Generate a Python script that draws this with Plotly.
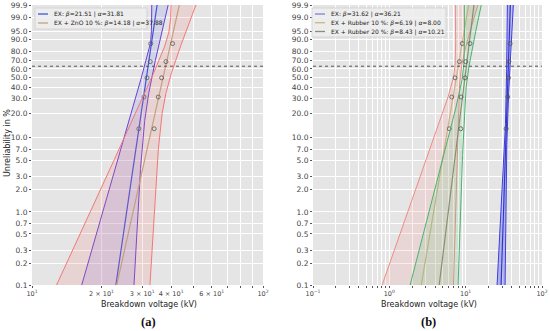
import numpy as np
import plotly.graph_objects as go

# ---------------- data ----------------
ranks_F = [0.1296, 0.3148, 0.5, 0.6852, 0.8704]  # Benard median ranks, n=5

# panel (a)
a_names = ["EX", "EX + ZnO 10 %"]
a_beta = [21.51, 14.18]
a_alpha = [31.81, 37.88]
a_points = [[29.0, 30.55, 31.47, 32.5, 32.66],
            [33.8, 35.2, 36.4, 38.0, 40.6]]
# confidence-band half widths (ln units): (w0, wk, rho) for lower / upper side
a_lo_band = [(0.035, 0.0444, -0.96), (0.09, 0.0753, -0.87)]
a_hi_band = [(0.06, 0.0312, 0.675), (0.08, 0.0541, 0.61)]

# panel (b)
b_names = ["EX", "EX + Rubber 10 %", "EX + Rubber 20 %"]
b_beta = [31.62, 6.19, 8.43]
b_alpha = [36.21, 8.00, 10.21]
b_points = [[33.9, 35.6, 36.4, 36.9, 38.2],
            [6.11, 6.57, 7.26, 8.27, 9.06],
            [8.63, 8.70, 9.82, 10.0, 11.4]]
b_lo_band = [(0.05, 0.0229, 0.82), (0.10, 0.1774, 0.476), (0.08, 0.1305, 0.35)]
b_hi_band = [(0.05, 0.0229, 0.82), (0.10, 0.1389, -0.066), (0.08, 0.0877, 0.49)]

y_ticks_pct = [99.9, 99.0, 95.0, 90.0, 80.0, 70.0, 60.0, 50.0, 40.0, 30.0, 20.0,
               10.0, 7.0, 5.0, 3.0, 2.0, 1.0, 0.7, 0.5, 0.3, 0.2, 0.1]
a_xticks = [10, 20, 30, 40, 50, 60, 70, 80, 90, 100]
a_xtext = ["10<sup>1</sup>", "2 × 10<sup>1</sup>", "3 × 10<sup>1</sup>", "4 × 10<sup>1</sup>", "",
           "6 × 10<sup>1</sup>", "", "", "", "10<sup>2</sup>"]
b_xticks = [m * 10.0 ** e for e in (-1, 0, 1) for m in range(1, 10)] + [100]
b_xtext = [("10<sup>%s</sup>" % ("−1" if e == -1 else str(e))) if m == 1 else ""
           for e in (-1, 0, 1) for m in range(1, 10)] + ["10<sup>2</sup>"]

# styles
a_fit_col = ["#4353d6", "#c4a07e"]
a_bnd_col = ["#6a40d0", "#f07878"]
a_fill_col = ["rgba(110,120,235,0.17)", "rgba(250,120,120,0.16)"]
b_fit_col = ["#3535c8", "#c8b484", "#86906e"]
b_bnd_col = ["#3d3de0", "#ec8c84", "#4fb070"]
b_fill_col = ["rgba(50,60,235,0.30)", "rgba(250,130,130,0.16)", "rgba(80,200,120,0.16)"]

W, H = 550, 331


def px(x):
    return x / W


def py(y):
    return 1 - y / H


def yw(F):
    return np.log(-np.log(1.0 - np.asarray(F, dtype=float)))


YMIN = float(yw(0.001))
YMAX = float(yw(0.999))
ys = np.linspace(YMIN, YMAX, 200)

fig = go.Figure()


def half_width(p):
    w0, wk, rho = p
    return np.sqrt(np.maximum(w0 ** 2 + (wk * ys) ** 2 + 2 * rho * w0 * wk * ys, 1e-6))


def add_series(beta, alpha, pts, lo_p, hi_p, fitc, bndc, fillc, xa, ya):
    u = np.log(alpha) + ys / beta
    lo = np.exp(u - half_width(lo_p))
    hi = np.exp(u + half_width(hi_p))
    fig.add_trace(go.Scatter(x=np.concatenate([lo, hi[::-1]]), y=np.concatenate([ys, ys[::-1]]),
                             fill="toself", fillcolor=fillc, line=dict(width=0), mode="lines",
                             showlegend=False, hoverinfo="skip", xaxis=xa, yaxis=ya))
    for b in (lo, hi):
        fig.add_trace(go.Scatter(x=b, y=ys, mode="lines", line=dict(color=bndc, width=1),
                                 showlegend=False, xaxis=xa, yaxis=ya))
    fig.add_trace(go.Scatter(x=np.exp(u), y=ys, mode="lines", line=dict(color=fitc, width=1.2),
                             showlegend=False, xaxis=xa, yaxis=ya))
    fig.add_trace(go.Scatter(x=pts, y=yw(ranks_F), mode="markers",
                             marker=dict(symbol="circle-open", size=4, color="#555555",
                                         line=dict(width=0.8)),
                             showlegend=False, xaxis=xa, yaxis=ya))


for i in range(len(a_names)):
    add_series(a_beta[i], a_alpha[i], a_points[i], a_lo_band[i], a_hi_band[i],
               a_fit_col[i], a_bnd_col[i], a_fill_col[i], "x", "y")
for i in range(len(b_names)):
    add_series(b_beta[i], b_alpha[i], b_points[i], b_lo_band[i], b_hi_band[i],
               b_fit_col[i], b_bnd_col[i], b_fill_col[i], "x2", "y2")

# 63.2 % reference line
for xa, ya, rng in (("x", "y", [10, 100]), ("x2", "y2", [0.1, 100])):
    fig.add_trace(go.Scatter(x=rng, y=[0, 0], mode="lines",
                             line=dict(color="#555555", width=1, dash="dot"),
                             showlegend=False, xaxis=xa, yaxis=ya))

ytickfont = dict(family="DejaVu Sans", size=7.5, color="#444444")
xtickfont = dict(family="DejaVu Sans", size=6.5, color="#444444")
ax_common = dict(showgrid=True, gridcolor="white", gridwidth=1, ticks="outside", ticklen=2,
                 tickcolor="#555555", zeroline=False, showline=False, automargin=False)
yvals = [float(v) for v in yw(np.array(y_ticks_pct) / 100.0)]
ytext = ["%.1f" % v for v in y_ticks_pct]

ydom = [py(285), py(5)]
fig.update_layout(
    width=W, height=H, margin=dict(l=0, r=0, t=0, b=0),
    paper_bgcolor="white", plot_bgcolor="#e5e5e5", showlegend=False,
    xaxis=dict(type="log", domain=[px(32), px(263)], range=[1, 2], tickvals=a_xticks,
               ticktext=a_xtext, anchor="y", tickangle=0, tickfont=xtickfont, **ax_common),
    yaxis=dict(domain=ydom, range=[YMIN, YMAX], tickvals=yvals, ticktext=ytext, anchor="x",
               tickfont=ytickfont, **ax_common),
    xaxis2=dict(type="log", domain=[px(313), px(542)], range=[-1, 2], tickvals=b_xticks,
                ticktext=b_xtext, anchor="y2", tickangle=0, tickfont=xtickfont, **ax_common),
    yaxis2=dict(domain=ydom, range=[YMIN, YMAX], tickvals=yvals, ticktext=ytext, anchor="x2",
                tickfont=ytickfont, **ax_common),
)

shapes = []
annotations = []


def add_legend(x0, y0, x1, y1, names, betas, alphas, cols, rowy):
    shapes.append(dict(type="rect", xref="paper", yref="paper", x0=px(x0), x1=px(x1),
                       y0=py(y1), y1=py(y0), fillcolor="rgba(238,238,238,0.85)",
                       line=dict(color="#cfcfcf", width=0.8), layer="above"))
    for k in range(len(names)):
        yy = rowy[k]
        shapes.append(dict(type="line", xref="paper", yref="paper", x0=px(x0 + 3), x1=px(x0 + 13),
                           y0=py(yy), y1=py(yy), line=dict(color=cols[k], width=1.3), layer="above"))
        annotations.append(dict(text="%s: <i>β</i>=%.2f | <i>α</i>=%.2f" % (names[k], betas[k], alphas[k]),
                                x=px(x0 + 17), y=py(yy), xref="paper", yref="paper",
                                xanchor="left", yanchor="middle", showarrow=False,
                                font=dict(family="DejaVu Sans", size=6, color="#222")))


add_legend(35, 8, 147, 29, a_names, a_beta, a_alpha, a_fit_col, [14, 23])
add_legend(312, 8, 446, 37, b_names, b_beta, b_alpha, ["#8080d0", "#c8b87e", "#8c8c70"], [14, 22.7, 31.5])

titlefont = dict(family="DejaVu Sans", size=8, color="#222")
annotations += [
    dict(text="Unreliability in %", x=px(7), y=py(143), xref="paper", yref="paper", textangle=-90,
         showarrow=False, font=titlefont, xanchor="center", yanchor="middle"),
    dict(text="Breakdown voltage (kV)", x=px(149), y=py(304), xref="paper", yref="paper",
         showarrow=False, font=titlefont, xanchor="center", yanchor="middle"),
    dict(text="Breakdown voltage (kV)", x=px(429), y=py(304), xref="paper", yref="paper",
         showarrow=False, font=titlefont, xanchor="center", yanchor="middle"),
    dict(text="<b>(a)</b>", x=px(148), y=py(322), xref="paper", yref="paper",
         showarrow=False, font=dict(family="Liberation Serif", size=12.5, color="#111"),
         xanchor="center", yanchor="middle"),
    dict(text="<b>(b)</b>", x=px(428), y=py(322), xref="paper", yref="paper",
         showarrow=False, font=dict(family="Liberation Serif", size=12.5, color="#111"),
         xanchor="center", yanchor="middle"),
]
fig.update_layout(shapes=shapes, annotations=annotations)

fig.write_html("out.html", config={"displayModeBar": False},
               post_script="document.body.style.margin='0';document.body.style.overflow='hidden';")
